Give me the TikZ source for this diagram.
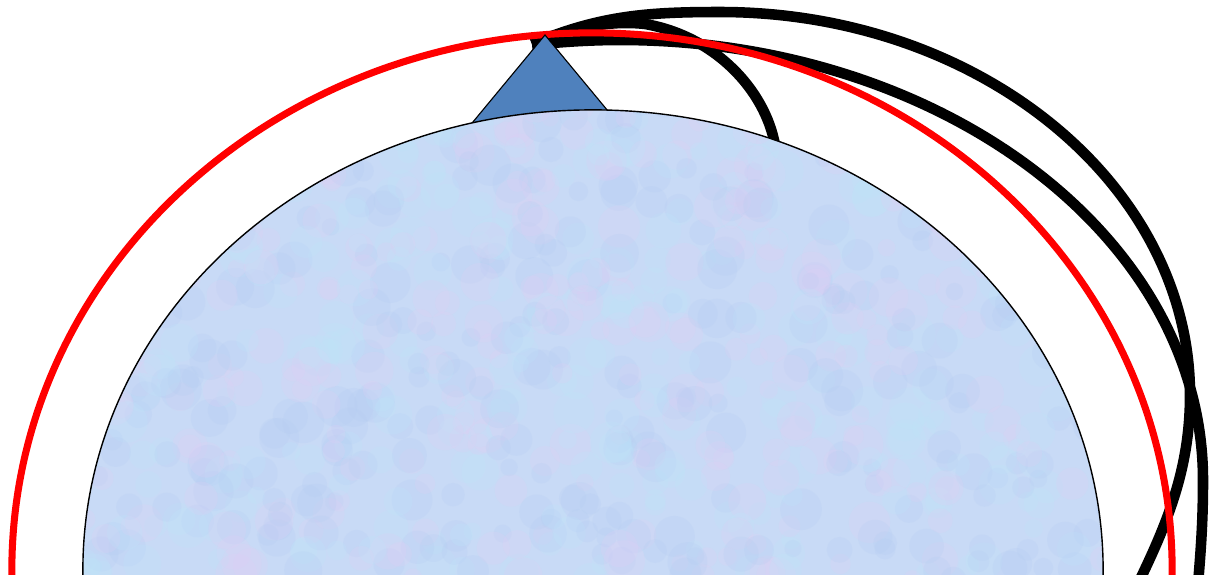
\documentclass[tikz,border=0pt]{standalone}
\usepackage{tikz}
\definecolor{headblue}{RGB}{79,129,189}
\definecolor{domefill}{RGB}{200,218,246}
\definecolor{domepink}{RGB}{224,206,244}
\definecolor{domecyan}{RGB}{190,230,250}
\definecolor{domedeep}{RGB}{180,204,242}

\begin{document}
\begin{tikzpicture}[x=0.025cm,y=-0.025cm,
  wire/.style={line width=7.5pt,line cap=butt},
  ring/.style={red,line width=5pt}]
  \useasboundingbox (0,0) rectangle (1210,574);
  \clip (0,0) rectangle (1210,574);
  \coordinate (tip) at (545,35);
  \coordinate (root) at (532,44);

  % wires leaving the tip
  \draw[wire] (root) .. controls (600,15) and (650,12) .. (720,12)
    .. controls (979,12) and (1190,184) .. (1190,395)
    .. controls (1190,480) and (1160,540) .. (1120,620);
  \draw[wire] (532,45) .. controls (560,42) and (590,40) .. (620,40)
    .. controls (942,40) and (1203,237) .. (1203,480)
    .. controls (1203,530) and (1200,560) .. (1195,620);
  \draw[wire] (root) .. controls (570,28) and (610,20) .. (645,24)
    .. controls (715,36) and (765,90) .. (775,145);

  % outer ring
  \draw[ring] (592,570) ellipse [x radius=14.5cm, y radius=13.425cm];

  % cone
  \filldraw[fill=headblue,draw=black,line width=0.8pt] (tip) -- (632,140) -- (458,140) -- cycle;

  % dome with mottled fill
  \fill[domefill] (593,570) ellipse [x radius=12.75cm, y radius=11.5cm];
  \begin{scope}
    \clip (593,570) ellipse [x radius=12.75cm, y radius=11.5cm];
    \pgfmathsetseed{7}
    \foreach \i in {1,...,900}{
      \pgfmathsetmacro\px{80+1030*rnd}
      \pgfmathsetmacro\py{100+480*rnd}
      \pgfmathsetmacro\pr{6+9*rnd}
      \pgfmathtruncatemacro\pc{3*rnd}
      \ifcase\pc \def\blobcol{domepink}\or \def\blobcol{domecyan}\else \def\blobcol{domedeep}\fi
      \fill[\blobcol,opacity=0.22] (\px,\py) circle [radius=\pr pt];
    }
  \end{scope}
  \draw[line width=1pt] (593,570) ellipse [x radius=12.75cm, y radius=11.5cm];
\end{tikzpicture}
\end{document}
